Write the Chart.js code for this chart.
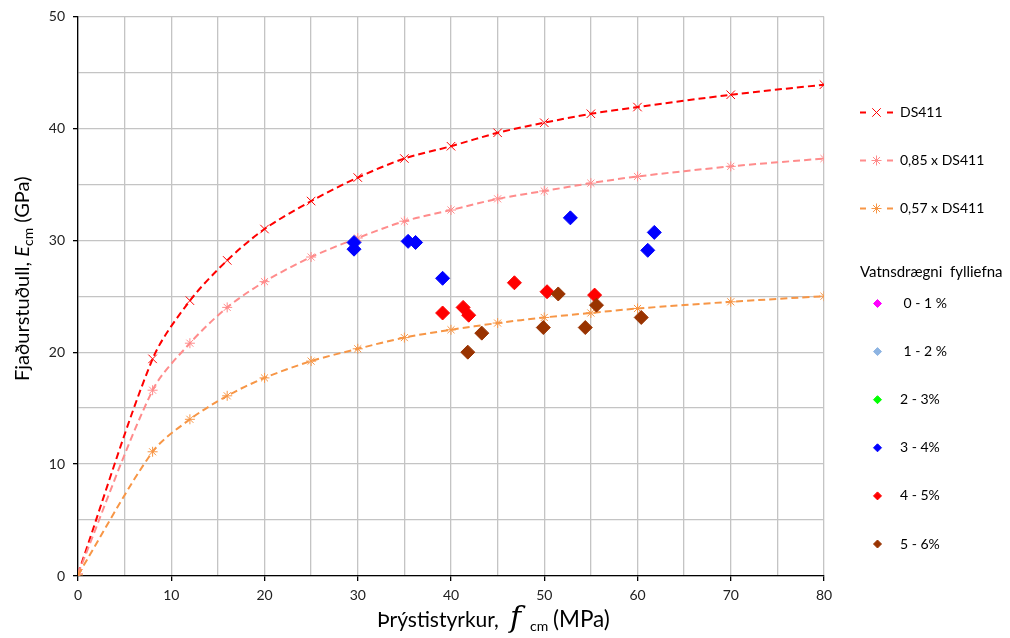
<!DOCTYPE html>
<html>
<head>
<meta charset="utf-8">
<script src="https://cdn.jsdelivr.net/npm/chart.js@4/dist/chart.umd.min.js"></script>
<style>
  body { margin: 0; background: #fff; }
  #wrap { width: 1010px; height: 638px; }
</style>
</head>
<body>
<div id="wrap"><canvas id="ecChart" width="1010" height="638"></canvas></div>
<script>
// --- Data ---

const fcm = [0, 8, 12, 16, 20, 25, 30, 35, 40, 45, 50, 55, 60, 70, 80];
const ds411 = [0.2, 19.4, 24.6, 28.2, 31.0, 33.5, 35.6, 37.3, 38.4, 39.6, 40.5, 41.3, 41.9, 43.0, 43.9];
const ds411x085 = [0.2, 16.6, 20.8, 24.0, 26.3, 28.5, 30.2, 31.7, 32.7, 33.7, 34.4, 35.1, 35.7, 36.6, 37.3];
const ds411x057 = [0.1, 11.1, 14.0, 16.1, 17.7, 19.2, 20.3, 21.3, 22.0, 22.6, 23.1, 23.5, 23.9, 24.5, 25.0];

const lineLabels = ['DS411', '0,85 x DS411', '0,57 x DS411'];

// Vatnsdrægni fylliefna groups
const groupLabels = [' 0 - 1 %', ' 1 - 2 %', '2 - 3%', '3 - 4%', '4 - 5%', '5 - 6%'];
const g01x = [], g01y = [];
const g12x = [], g12y = [];
const g23x = [], g23y = [];
const g34x = [29.6, 29.6, 35.4, 36.2, 39.1, 52.8, 61.8, 61.1];
const g34y = [29.8, 29.2, 29.9, 29.8, 26.6, 32.0, 30.7, 29.1];
const g45x = [39.1, 41.3, 41.9, 46.8, 50.3, 55.4];
const g45y = [23.5, 24.0, 23.3, 26.2, 25.4, 25.1];
const g56x = [41.8, 43.3, 49.9, 51.5, 54.4, 55.6, 60.4];
const g56y = [20.0, 21.7, 22.2, 25.2, 22.2, 24.2, 23.1];

const xTicks = [0, 10, 20, 30, 40, 50, 60, 70, 80];
const yTicks = [0, 10, 20, 30, 40, 50];

function toXY(xs, ys) {
    return xs.map((x, i) => ({ x: x, y: ys[i] }));
}

const FONT = 'Lato, "Open Sans", sans-serif';

function lineSet(label, xs, ys, color, style) {
    return {
        label: label,
        data: toXY(xs, ys),
        showLine: true,
        borderColor: color,
        backgroundColor: color,
        borderWidth: 2,
        borderDash: [7, 4],
        tension: 0.3,
        pointStyle: style,
        pointRadius: style === 'crossRot' ? 6 : 5,
        pointBorderWidth: 1,
        pointBorderColor: color
    };
}

function dotSet(label, xs, ys, color) {
    return {
        label: label,
        data: toXY(xs, ys),
        showLine: false,
        borderColor: color,
        backgroundColor: color,
        pointStyle: 'rectRot',
        pointRadius: 7,
        pointBorderWidth: 1
    };
}

const datasets = [
    lineSet(lineLabels[0], fcm, ds411, '#ff0000', 'crossRot'),
    lineSet(lineLabels[1], fcm, ds411x085, '#ff8c8c', 'star'),
    lineSet(lineLabels[2], fcm, ds411x057, '#f79646', 'star'),
    dotSet(groupLabels[0], g01x, g01y, '#ff00ff'),
    dotSet(groupLabels[1], g12x, g12y, '#8db4e2'),
    dotSet(groupLabels[2], g23x, g23y, '#00ff00'),
    dotSet(groupLabels[3], g34x, g34y, '#0000ff'),
    dotSet(groupLabels[4], g45x, g45y, '#ff0000'),
    dotSet(groupLabels[5], g56x, g56y, '#993300')
];
// later series on top, like the original
datasets.forEach((d, i) => { d.order = datasets.length - i; });

// --- side legend, drawn on the canvas ---
const sideLegend = {
    id: 'sideLegend',
    afterDraw(chart) {
        const ctx = chart.ctx;
        const sets = chart.data.datasets;
        ctx.save();
        ctx.font = '14px ' + FONT;
        ctx.textBaseline = 'middle';
        ctx.textAlign = 'left';

        for (let i = 0; i < 3; i++) {
            const ds = sets[i];
            const y = 112.5 + i * 48;
            ctx.strokeStyle = ds.borderColor;
            ctx.fillStyle = ds.borderColor;
            ctx.lineWidth = 2;
            ctx.beginPath();
            ctx.moveTo(860, y); ctx.lineTo(866, y);
            ctx.moveTo(887, y); ctx.lineTo(893, y);
            ctx.stroke();
            ctx.lineWidth = 1;
            Chart.helpers.drawPoint(ctx, { pointStyle: ds.pointStyle, radius: ds.pointRadius, borderWidth: 1, rotation: 0 }, 876.5, y);
            ctx.fillStyle = '#000';
            ctx.fillText(ds.label, 900, y);
        }

        ctx.fillStyle = '#000';
        ctx.font = '15px ' + FONT;
        ctx.fillText('Vatnsdrægni  fylliefna', 860, 272.5);
        ctx.font = '14px ' + FONT;

        for (let i = 3; i < sets.length; i++) {
            const ds = sets[i];
            const y = 303.5 + (i - 3) * 48.1;
            ctx.fillStyle = ds.backgroundColor;
            ctx.strokeStyle = ds.borderColor;
            ctx.lineWidth = 1;
            Chart.helpers.drawPoint(ctx, { pointStyle: 'rectRot', radius: 4, borderWidth: 1, rotation: 0 }, 877.5, y);
            ctx.fillStyle = '#000';
            ctx.fillText(ds.label, 900, y);
        }
        ctx.restore();
    }
};

// --- axis titles with italic symbol and subscript ---
function drawRich(ctx, parts, x, y) {
    parts.forEach(p => {
        ctx.font = p.font;
        if (p.at !== undefined) x = p.at;
        ctx.fillText(p.text, x, y + (p.dy || 0));
        x += ctx.measureText(p.text).width;
    });
}

const axisTitles = {
    id: 'axisTitles',
    afterDraw(chart) {
        const ctx = chart.ctx;
        ctx.save();
        ctx.fillStyle = '#000';
        ctx.textBaseline = 'alphabetic';
        ctx.textAlign = 'left';

        drawRich(ctx, [
            { text: 'Þrýstistyrkur,', font: '21px ' + FONT, at: 377 },
            { text: 'f', font: 'italic 30px "DejaVu Serif", serif', at: 510 },
            { text: 'cm', font: '14px ' + FONT, dy: 4, at: 530 },
            { text: '(MPa)', font: '22.5px ' + FONT, at: 553 }
        ], 377, 627);

        ctx.translate(29, 381);
        ctx.rotate(-Math.PI / 2);
        drawRich(ctx, [
            { text: 'Fjaðurstuðull, ', font: '20px ' + FONT },
            { text: 'E', font: 'italic 20px ' + FONT },
            { text: 'cm', font: '14px ' + FONT, dy: 4 },
            { text: ' (GPa)', font: '20px ' + FONT }
        ], 0, 0);
        ctx.restore();
    }
};

document.addEventListener('DOMContentLoaded', function () {
    let ctx = document.getElementById('ecChart').getContext('2d');

    let tickShown = (list) => (c) => list.includes(c.tick.value) ? '#000000' : 'rgba(0,0,0,0)';

    new Chart(ctx, {
        type: 'scatter',
        data: { datasets: datasets },
        plugins: [sideLegend, axisTitles],
        options: {
            responsive: false,
            animation: false,
            layout: { padding: { top: 15, right: 186, left: 0, bottom: 0 } },
            scales: {
                x: {
                    type: 'linear',
                    min: 0,
                    max: 80,
                    afterFit: (s) => { s.height = 62; },
                    border: { color: '#000', width: 1.3 },
                    grid: { color: '#c4c4c4', lineWidth: 1.3, tickLength: 5, tickColor: tickShown(xTicks) },
                    ticks: {
                        stepSize: 5,
                        padding: 6,
                        color: '#222',
                        font: { size: 14, family: FONT },
                        callback: (v) => xTicks.includes(v) ? v : ''
                    }
                },
                y: {
                    min: 0,
                    max: 50,
                    afterFit: (s) => { s.width = 78; },
                    border: { color: '#000', width: 1.3 },
                    grid: { color: '#c4c4c4', lineWidth: 1.3, tickLength: 5, tickColor: tickShown(yTicks) },
                    ticks: {
                        stepSize: 5,
                        padding: 8,
                        color: '#222',
                        font: { size: 14, family: FONT },
                        callback: (v) => yTicks.includes(v) ? v : ''
                    }
                }
            },
            plugins: {
                legend: { display: false },
                tooltip: { enabled: false }
            }
        }
    });
});
</script>
</body>
</html>
